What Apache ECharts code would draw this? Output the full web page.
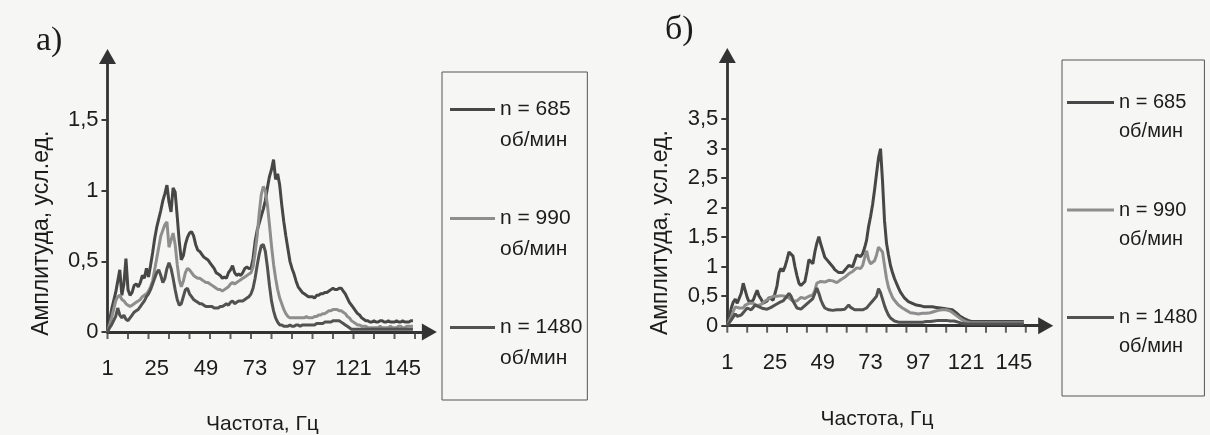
<!DOCTYPE html>
<html><head><meta charset="utf-8">
<script src="https://cdn.jsdelivr.net/npm/echarts@6/dist/echarts.min.js"></script>
<style>html,body{margin:0;padding:0;background:#f6f6f4;}#c{width:1210px;height:435px;}</style>
</head><body><div id="c"></div>
<script>
const seriesNames = ['n = 685\nоб/мин', 'n = 990\nоб/мин', 'n = 1480\nоб/мин'];
const seriesColors = ['#474747', '#8e8e8e', '#525252'];
const panelTitles = ['а)', 'б)'];
const xAxisTitle = 'Частота, Гц';
const yAxisTitle = 'Амплитуда, усл.ед.';
const xTickLabels = [1, 25, 49, 73, 97, 121, 145];
const xTickMarks = [1, 11, 21, 31, 41, 51, 61, 71, 81, 91, 101, 111, 121, 131, 141, 151];
const yTicksA = [0, 0.5, 1, 1.5];
const yTicksB = [0, 0.5, 1, 1.5, 2, 2.5, 3, 3.5];
const xMaxA = 158;
const xMaxB = 161;

// Panel a) — amplitude at frequency 1, 2, 3, ... Hz
const a685 = [0.00,0.08,0.16,0.22,0.28,0.36,0.44,0.26,0.34,0.52,
 0.30,0.26,0.28,0.33,0.34,0.32,0.35,0.40,0.38,0.45,
 0.39,0.47,0.56,0.66,0.74,0.80,0.86,0.93,0.98,1.04,
 0.92,0.85,1.02,0.99,0.82,0.64,0.51,0.54,0.62,0.67,
 0.70,0.71,0.68,0.62,0.58,0.57,0.55,0.53,0.52,0.51,
 0.49,0.47,0.45,0.42,0.41,0.40,0.38,0.39,0.38,0.42,
 0.44,0.47,0.42,0.40,0.41,0.40,0.42,0.45,0.46,0.45,
 0.45,0.52,0.64,0.72,0.77,0.82,0.87,0.93,1.02,1.10,
 1.15,1.22,1.08,1.12,1.04,0.90,0.78,0.68,0.59,0.50,
 0.45,0.41,0.36,0.32,0.30,0.28,0.27,0.26,0.25,0.25,
 0.25,0.24,0.26,0.26,0.27,0.27,0.28,0.28,0.29,0.30,
 0.31,0.30,0.30,0.31,0.31,0.29,0.27,0.24,0.21,0.19,
 0.17,0.15,0.13,0.12,0.10,0.09,0.08,0.08,0.07,0.07,
 0.08,0.07,0.07,0.08,0.08,0.07,0.07,0.08,0.07,0.07,
 0.07,0.08,0.07,0.07,0.08,0.07,0.07,0.07,0.08,0.08];
const a990 = [0.00,0.05,0.10,0.16,0.22,0.25,0.26,0.23,0.22,0.20,
 0.19,0.18,0.19,0.20,0.21,0.22,0.23,0.25,0.26,0.27,
 0.29,0.32,0.36,0.44,0.52,0.60,0.68,0.72,0.76,0.78,
 0.60,0.65,0.70,0.62,0.48,0.37,0.32,0.36,0.42,0.45,
 0.44,0.42,0.40,0.39,0.38,0.38,0.37,0.36,0.35,0.35,
 0.34,0.33,0.32,0.31,0.30,0.30,0.29,0.30,0.31,0.32,
 0.34,0.35,0.34,0.35,0.36,0.37,0.38,0.39,0.40,0.41,
 0.42,0.46,0.56,0.68,0.84,0.97,1.03,1.00,0.90,0.76,
 0.61,0.48,0.38,0.30,0.24,0.20,0.16,0.13,0.11,0.10,
 0.10,0.10,0.10,0.10,0.10,0.10,0.10,0.11,0.10,0.10,
 0.10,0.11,0.11,0.12,0.12,0.13,0.13,0.14,0.15,0.15,
 0.16,0.16,0.16,0.15,0.15,0.14,0.13,0.11,0.10,0.08,
 0.07,0.06,0.05,0.05,0.04,0.04,0.04,0.03,0.03,0.03,
 0.03,0.03,0.03,0.04,0.03,0.03,0.03,0.03,0.04,0.03,
 0.03,0.03,0.04,0.04,0.03,0.03,0.04,0.04,0.04,0.04];
const a1480 = [0.00,0.03,0.05,0.08,0.11,0.17,0.12,0.10,0.12,0.09,
 0.08,0.10,0.12,0.14,0.15,0.16,0.18,0.20,0.22,0.25,
 0.27,0.30,0.34,0.38,0.42,0.44,0.40,0.35,0.38,0.45,
 0.49,0.45,0.38,0.30,0.23,0.19,0.20,0.25,0.30,0.31,
 0.27,0.25,0.23,0.22,0.21,0.20,0.20,0.19,0.18,0.18,
 0.18,0.18,0.17,0.17,0.17,0.18,0.18,0.19,0.20,0.19,
 0.21,0.22,0.20,0.21,0.22,0.22,0.22,0.23,0.24,0.25,
 0.27,0.31,0.38,0.47,0.55,0.61,0.62,0.57,0.46,0.33,
 0.22,0.15,0.10,0.07,0.05,0.05,0.04,0.04,0.04,0.05,
 0.04,0.04,0.05,0.05,0.04,0.05,0.05,0.05,0.05,0.05,
 0.05,0.05,0.06,0.06,0.06,0.06,0.07,0.07,0.07,0.07,
 0.08,0.08,0.08,0.08,0.07,0.06,0.05,0.04,0.03,0.02,
 0.02,0.02,0.02,0.02,0.02,0.02,0.02,0.02,0.02,0.02,
 0.02,0.02,0.02,0.02,0.02,0.02,0.02,0.02,0.02,0.02,
 0.02,0.02,0.02,0.02,0.02,0.02,0.02,0.02,0.02,0.02];

// Panel б)
const b685 = [0.00,0.15,0.30,0.40,0.45,0.38,0.40,0.55,0.72,0.60,
 0.48,0.40,0.38,0.43,0.52,0.60,0.50,0.45,0.38,0.40,
 0.42,0.48,0.46,0.43,0.55,0.68,0.90,0.97,0.92,1.00,
 1.12,1.25,1.28,1.18,1.00,0.85,0.72,0.68,0.66,0.75,
 0.92,1.12,1.15,1.05,1.25,1.40,1.51,1.38,1.27,1.16,
 1.12,1.08,1.05,1.00,0.95,0.93,0.90,0.89,0.90,0.94,
 0.98,1.02,1.03,1.00,1.10,1.20,1.18,1.17,1.22,1.32,
 1.45,1.68,1.85,2.05,2.30,2.58,2.85,3.00,2.45,1.78,
 1.40,1.20,1.02,0.90,0.80,0.72,0.64,0.57,0.52,0.47,
 0.44,0.41,0.39,0.38,0.36,0.35,0.35,0.34,0.33,0.32,
 0.32,0.32,0.33,0.32,0.32,0.31,0.30,0.30,0.29,0.29,
 0.29,0.28,0.28,0.27,0.25,0.22,0.19,0.16,0.14,0.12,
 0.10,0.09,0.08,0.07,0.07,0.07,0.07,0.07,0.07,0.07,
 0.07,0.07,0.07,0.07,0.07,0.07,0.07,0.07,0.07,0.07,
 0.07,0.07,0.07,0.07,0.07,0.07,0.07,0.07,0.07,0.07];
const b990 = [0.00,0.08,0.15,0.24,0.32,0.33,0.30,0.28,0.30,0.35,
 0.36,0.38,0.40,0.38,0.36,0.34,0.33,0.36,0.38,0.42,
 0.44,0.46,0.48,0.50,0.52,0.50,0.53,0.51,0.48,0.50,
 0.52,0.47,0.44,0.42,0.40,0.42,0.45,0.48,0.47,0.46,
 0.47,0.50,0.48,0.52,0.60,0.72,0.73,0.75,0.76,0.74,
 0.75,0.77,0.78,0.76,0.74,0.73,0.75,0.78,0.80,0.82,
 0.85,0.88,0.90,0.92,0.95,0.98,1.00,0.97,1.02,1.15,
 1.27,1.12,1.05,1.03,1.10,1.20,1.33,1.35,1.25,1.02,
 0.80,0.65,0.56,0.48,0.43,0.39,0.35,0.32,0.30,0.28,
 0.26,0.24,0.22,0.21,0.21,0.20,0.20,0.20,0.21,0.20,
 0.21,0.21,0.22,0.23,0.24,0.25,0.26,0.26,0.27,0.27,
 0.27,0.26,0.25,0.23,0.20,0.17,0.15,0.12,0.10,0.08,
 0.07,0.05,0.05,0.05,0.05,0.05,0.05,0.05,0.05,0.05,
 0.05,0.05,0.05,0.05,0.05,0.05,0.05,0.05,0.05,0.05,
 0.05,0.05,0.05,0.05,0.05,0.05,0.05,0.05,0.05,0.05];
const b1480 = [0.00,0.05,0.10,0.15,0.20,0.16,0.14,0.18,0.22,0.26,
 0.30,0.28,0.27,0.31,0.35,0.33,0.32,0.30,0.29,0.28,
 0.28,0.30,0.31,0.33,0.35,0.37,0.39,0.41,0.42,0.45,
 0.50,0.55,0.50,0.42,0.36,0.30,0.27,0.28,0.31,0.34,
 0.37,0.40,0.42,0.46,0.55,0.64,0.55,0.44,0.36,0.30,
 0.28,0.27,0.27,0.26,0.27,0.27,0.28,0.27,0.27,0.28,
 0.30,0.35,0.31,0.28,0.27,0.27,0.27,0.26,0.27,0.27,
 0.30,0.34,0.38,0.42,0.45,0.50,0.63,0.56,0.45,0.34,
 0.25,0.18,0.13,0.10,0.08,0.07,0.06,0.06,0.06,0.06,
 0.06,0.06,0.06,0.06,0.06,0.06,0.06,0.06,0.06,0.06,
 0.07,0.07,0.07,0.08,0.08,0.08,0.09,0.09,0.09,0.09,
 0.09,0.08,0.08,0.08,0.08,0.07,0.06,0.05,0.04,0.03,
 0.03,0.03,0.03,0.03,0.03,0.03,0.03,0.03,0.03,0.03,
 0.03,0.03,0.03,0.03,0.03,0.03,0.03,0.03,0.03,0.03,
 0.03,0.03,0.03,0.03,0.03,0.03,0.03,0.03,0.03,0.03];

const FONT = 'Liberation Sans';
const TXT = '#1c1c1c';
const AX = '#333';

function xAxisCfg(gridIndex, max, namePad, nameGap) {
  return {
    type: 'value', gridIndex, min: 1, max,
    name: xAxisTitle, nameLocation: 'middle', nameGap, nameMoveOverlap: false,
    nameTextStyle: {fontFamily: FONT, fontSize: 21, color: TXT, padding: namePad},
    axisLine: {show: true, onZero: false, symbol: ['none', 'triangle'], symbolSize: [17, 15],
      lineStyle: {color: AX, width: 2.8}},
    axisTick: {show: false},
    axisLabel: {show: true, margin: 26, fontFamily: FONT, fontSize: 22, color: TXT,
      customValues: xTickLabels, formatter: (v) => String(v)},
    splitLine: {show: false}
  };
}
function yAxisCfg(gridIndex, max, ticks, namePad, nameGap) {
  return {
    type: 'value', gridIndex, min: 0, max,
    name: yAxisTitle, nameLocation: 'middle', nameRotate: 90, nameGap, nameMoveOverlap: false,
    nameTextStyle: {fontFamily: FONT, fontSize: 23, color: TXT, padding: namePad},
    axisLine: {show: true, onZero: false, symbol: ['none', 'triangle'], symbolSize: [17, 15],
      lineStyle: {color: AX, width: 2.8}},
    axisTick: {show: true, length: 6, inside: false, customValues: ticks,
      lineStyle: {color: '#3a3a3a', width: 2}},
    axisLabel: {show: true, margin: 9, fontFamily: FONT, fontSize: 22, color: TXT,
      customValues: ticks, formatter: (v) => String(v).replace('.', ',')},
    splitLine: {show: false}
  };
}
function legendCfg(left, top, padding, itemGap, iw, lh, fs) {
  const ih = lh * 2;
  const y0 = lh / 2 - 1.5, y1 = lh / 2 + 1.5;
  return {
    orient: 'vertical', left, top, padding, itemGap,
    itemWidth: iw, itemHeight: ih, selectedMode: false,
    icon: `path://M0,0L0.01,0M0,${y0}L${iw},${y0}L${iw},${y1}L0,${y1}ZM0,${ih}L0.01,${ih}`,
    itemStyle: {borderWidth: 0},
    borderColor: '#555', borderWidth: 1, backgroundColor: 'transparent',
    textStyle: {fontFamily: FONT, fontSize: fs, lineHeight: lh, color: TXT},
    data: seriesNames
  };
}
function lineSeries(name, color, values, gi) {
  return {
    type: 'line', name, xAxisIndex: gi, yAxisIndex: gi,
    data: values.map((v, i) => [i + 1, v]),
    showSymbol: false, symbol: 'none', smooth: false, animation: false,
    lineStyle: {color, width: 3}, itemStyle: {color}, z: 3
  };
}
// x-axis tick marks, placed through the axis scale at amplitude 0
function tickSeries(gi) {
  return {
    type: 'scatter', xAxisIndex: gi, yAxisIndex: gi, silent: true, clip: false,
    data: xTickMarks.map((t) => [t, 0]),
    symbol: 'rect', symbolSize: [2, 7], symbolOffset: [0, '50%'],
    itemStyle: {color: '#3a3a3a'}, z: 1, animation: false, tooltip: {show: false}
  };
}

const chart = echarts.init(document.getElementById('c'), null, {renderer: 'canvas'});
chart.setOption({
  backgroundColor: '#f6f6f4',
  animation: false,
  textStyle: {fontFamily: FONT},
  title: [
    {text: panelTitles[0], left: 36, top: 24, padding: 0,
      textStyle: {fontFamily: 'Liberation Serif', fontSize: 34, fontWeight: 'normal', color: TXT}},
    {text: panelTitles[1], left: 665, top: 13, padding: 0,
      textStyle: {fontFamily: 'Liberation Serif', fontSize: 34, fontWeight: 'normal', color: TXT}}
  ],
  grid: [
    {left: 107.5, top: 56.5, width: (xMaxA - 1) * 2.05, height: 275.5, outerBoundsMode: 'none', containLabel: false},
    {left: 727.3, top: 55.5, width: (xMaxB - 1) * 1.99, height: 270.2, outerBoundsMode: 'none', containLabel: false}
  ],
  xAxis: [xAxisCfg(0, xMaxA, [0, 12, 0, 0], 82), xAxisCfg(1, xMaxB, [0, 19, 0, 0], 83)],
  yAxis: [yAxisCfg(0, 1.95, yTicksA, [0, 78, 0, 0], 54), yAxisCfg(1, 4.58, yTicksB, [0, 84, 0, 0], 55)],
  legend: [
    legendCfg(442, 72, [22, 5, 26, 8], 47, 45, 31, 21),
    legendCfg(1062, 60, [28, 7, 35, 5], 49.5, 47, 29, 20)
  ],
  series: [
    tickSeries(0),
    tickSeries(1),
    lineSeries(seriesNames[0], seriesColors[0], a685, 0),
    lineSeries(seriesNames[1], seriesColors[1], a990, 0),
    lineSeries(seriesNames[2], seriesColors[2], a1480, 0),
    lineSeries(seriesNames[0], seriesColors[0], b685, 1),
    lineSeries(seriesNames[1], seriesColors[1], b990, 1),
    lineSeries(seriesNames[2], seriesColors[2], b1480, 1)
  ]
});
</script></body></html>
